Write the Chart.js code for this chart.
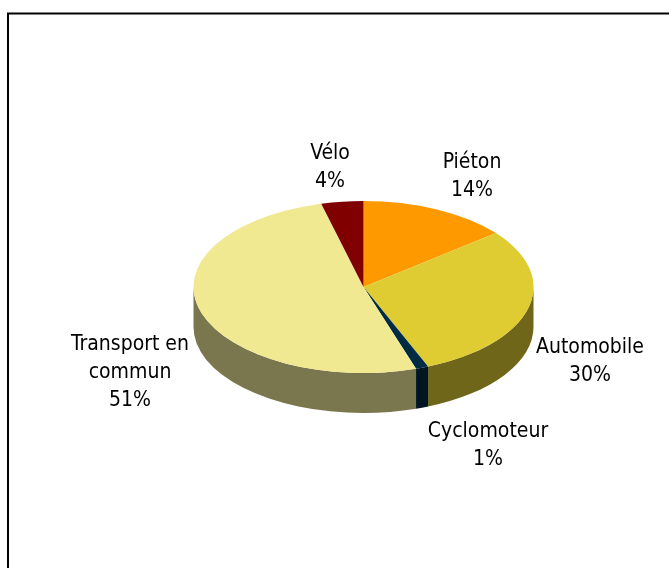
<!DOCTYPE html>
<html><head><meta charset="utf-8">
<style>html,body{margin:0;padding:0;background:#fff;overflow:hidden}canvas{display:block}</style>
<script src="https://cdn.jsdelivr.net/npm/chart.js@4"></script>
</head><body>
<div style="width:669px;height:568px;position:relative"><canvas id="c" width="669" height="568"></canvas></div>
<script>
const categories = ['Piéton','Automobile','Cyclomoteur','Transport en commun','Vélo'];
const shares = [14.2,29.6,1.2,51,4];
const topColors = ['#FF9900','#DFCC33','#002B45','#F1E892','#800000'];
const sideColors = ['#804D00','#70661A','#001623','#7A764E','#400000'];
const labelLines = [['Piéton','14%'],['Automobile','30%'],['Cyclomoteur','1%'],['Transport en','commun','51%'],['Vélo','4%']];
const labelCenters = [[472,163],[590,348],[488,432],[130,345],[330,154]];
const squash = 86/170, depth = 40, lineHeight = 28;

const tilt = {
  id:'tilt',
  beforeDraw(chart){
    const c = chart.ctx;
    c.save();
    c.fillStyle='#fff'; c.fillRect(0,0,chart.width,chart.height);
    c.strokeStyle='#000'; c.lineWidth=2;
    c.beginPath(); c.moveTo(8,chart.height+2); c.lineTo(8,13.5); c.lineTo(chart.width+2,13.5); c.stroke();
    c.restore();
  },
  beforeDatasetDraw(chart){
    const c = chart.ctx, arcs = chart.getDatasetMeta(0).data;
    const {x:cx,y:cy} = arcs[0];
    arcs.forEach((a,i)=>{
      const rx=a.outerRadius, ry=rx*squash;
      const a0=Math.max(a.startAngle,0), a1=Math.min(a.endAngle,Math.PI);
      if(a1<=a0) return;
      c.beginPath();
      c.ellipse(cx,cy,rx,ry,0,a0,a1);
      c.ellipse(cx,cy+depth,rx,ry,0,a1,a0,true);
      c.closePath();
      c.fillStyle=sideColors[i]; c.fill();
    });
    c.save();
    c.translate(cx,cy); c.scale(1,squash); c.translate(-cx,-cy);
  },
  afterDatasetDraw(chart){ chart.ctx.restore(); },
  afterDraw(chart){
    const c = chart.ctx;
    c.save();
    c.font='21px "DejaVu Sans Condensed"'; c.fillStyle='#000';
    c.textAlign='center'; c.textBaseline='middle';
    labelLines.forEach((lines,i)=>lines.forEach((t,j)=>
      c.fillText(t,labelCenters[i][0],labelCenters[i][1]+j*lineHeight)));
    c.restore();
  }
};
new Chart(document.getElementById('c'),{
  type:'pie',
  data:{labels:categories,datasets:[{data:shares,backgroundColor:topColors,borderWidth:0}]},
  options:{responsive:false,animation:false,
    layout:{padding:{left:193.5,right:135.5,top:117,bottom:111}},
    plugins:{legend:{display:false},tooltip:{enabled:false}}},
  plugins:[tilt]
});
</script></body></html>
